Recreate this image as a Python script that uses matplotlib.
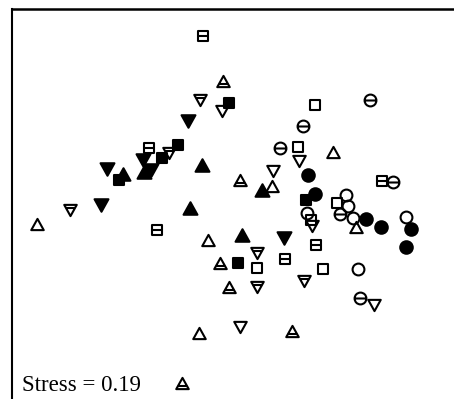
import numpy as np
import matplotlib
matplotlib.use("Agg")
import matplotlib.pyplot as plt
from matplotlib.path import Path


# NMDS ordination scores (axis 1 -> right, axis 2 -> up)
# one list of (x, y) per group: filled / open / barred versions of 4 shapes
tri_down_filled = [(188, 278), (143, 239), (151, 229), (107, 230), (101, 194), (284, 161)]
square_filled = [(229, 296), (178, 254), (162, 241), (119, 219), (306, 199), (238, 136)]
tri_up_filled = [(123, 225), (144, 227), (202, 234), (190, 191), (262, 209), (242, 164)]
circle_filled = [(308, 224), (315, 205), (366, 180), (381, 172), (411, 170), (406, 152)]

tri_up_open = [(37, 175), (208, 159), (272, 213), (333, 247), (356, 172), (199, 66)]
tri_down_open = [(222, 288), (273, 228), (299, 238), (312, 173), (374, 94), (240, 72)]
square_open = [(315, 294), (298, 252), (337, 196), (311, 179), (257, 131), (323, 130)]
circle_open = [(346, 204), (348, 193), (353, 181), (307, 186), (406, 182), (358, 130)]

tri_up_bar = [(223, 318), (240, 219), (220, 136), (229, 112), (292, 68), (182, 16)]
tri_down_bar = [(200, 299), (169, 246), (70, 189), (257, 146), (304, 118), (257, 112)]
square_bar = [(203, 363), (149, 251), (157, 169), (382, 218), (316, 154), (285, 140)]
circle_bar = [(370, 299), (303, 273), (280, 251), (393, 217), (340, 185), (360, 101)]

STRESS = 0.19


# marker shapes (triangles a bit flatter than the default ones)
def tri_path(up=True, bar=False):
    s = 1 if up else -1
    verts = [(0, 0.9 * s), (-1, -0.9 * s), (1, -0.9 * s), (0, 0.9 * s)]
    codes = [Path.MOVETO, Path.LINETO, Path.LINETO, Path.CLOSEPOLY]
    if bar:
        yb = -0.4 * s
        xb = (0.9 - yb * s) / 1.8  # half width of the triangle at the bar
        verts += [(-xb, yb), (xb, yb)]
        codes += [Path.MOVETO, Path.LINETO]
    return Path(verts, codes)


def square_path(bar=False):
    verts = [(-1, -1), (1, -1), (1, 1), (-1, 1), (-1, -1)]
    codes = [Path.MOVETO, Path.LINETO, Path.LINETO, Path.LINETO, Path.CLOSEPOLY]
    if bar:
        verts += [(-1, 0), (1, 0)]
        codes += [Path.MOVETO, Path.LINETO]
    return Path(verts, codes)


def circle_path(bar=False):
    c = Path.unit_circle()
    if not bar:
        return c
    line = Path([(-1, 0), (1, 0)], [Path.MOVETO, Path.LINETO])
    return Path.make_compound_path(c, line)


W, H = 454, 399
fig = plt.figure(figsize=(W / 100, H / 100), dpi=100)
ax = fig.add_axes([12 / W, 0, (W - 12) / W, (H - 9) / H])

groups = [
    (tri_down_filled, tri_path(up=False), "black", 10),
    (square_filled, square_path(), "black", 7.3),
    (tri_up_filled, tri_path(up=True), "black", 10),
    (circle_filled, circle_path(), "black", 9),
    (tri_up_open, tri_path(up=True), "none", 9),
    (tri_down_open, tri_path(up=False), "none", 9),
    (square_open, square_path(), "none", 7),
    (circle_open, circle_path(), "none", 8.5),
    (tri_up_bar, tri_path(up=True, bar=True), "none", 9),
    (tri_down_bar, tri_path(up=False, bar=True), "none", 9),
    (square_bar, square_path(bar=True), "none", 7),
    (circle_bar, circle_path(bar=True), "none", 8.5),
]

for pts, marker, face, ms in groups:
    xs, ys = zip(*pts)
    ax.plot(xs, ys, linestyle="none", marker=marker, markersize=ms,
            markerfacecolor=face, markeredgecolor="black", markeredgewidth=1.5)

ax.set_xlim(12, W)
ax.set_ylim(0, H - 9)
ax.set_xticks([])
ax.set_yticks([])
for side in ["right", "bottom"]:
    ax.spines[side].set_visible(False)
ax.spines["left"].set_linewidth(1.5)
ax.spines["top"].set_linewidth(1.8)

fig.text(22 / W, 8 / H, f"Stress = {STRESS:.2f}", family="Liberation Serif",
         fontsize=16.5, ha="left", va="baseline")

fig.savefig("out.png", dpi=100)
